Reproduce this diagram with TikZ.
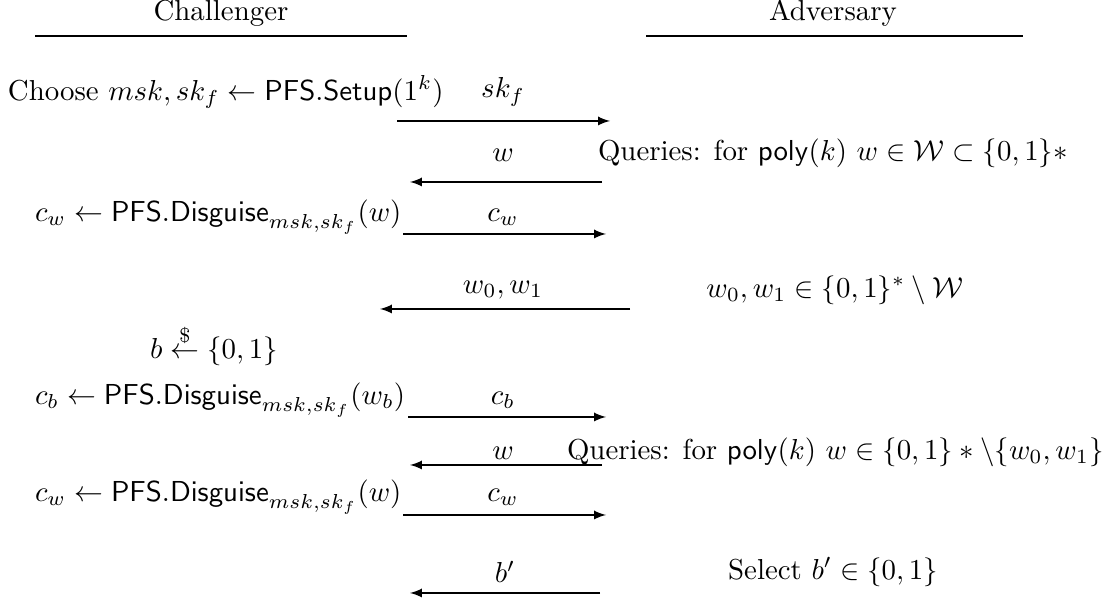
\documentclass[tikz,border=0pt]{standalone}
\usepackage{amsmath,amssymb}
\usetikzlibrary{arrows}
\begin{document}
\begin{tikzpicture}[x=0.01217cm,y=-0.01217cm,
  txt/.style={inner sep=0pt,outer sep=0pt},
  lefttxt/.style={txt,anchor=west},
  msg/.style={txt},
  arr/.style={-latex,line width=0.45pt},
  rule/.style={line width=0.45pt}]
\useasboundingbox (0,0) rectangle (1111,604);
% headers
\node[txt] (chal) at (221,13) {Challenger};
\node[txt] (adv) at (833,13) {Adversary};
\coordinate (cl1) at (35,36); \coordinate (cl2) at (407,36);
\coordinate (al1) at (646,36); \coordinate (al2) at (1023,36);
\draw[rule] (cl1) -- (cl2);
\draw[rule] (al1) -- (al2);
% row 1
\node[lefttxt] (r1) at (8,92) {Choose $msk, sk_f \leftarrow \mathsf{PFS.Setup}(1^k)$};
\node[msg] (m1) at (503,92) {$sk_f$};
\coordinate (a1s) at (397,121); \coordinate (a1e) at (610,121);
\draw[arr] (a1s) -- (a1e);
% row 2
\node[msg] (m2) at (503,155) {$w$};
\node[lefttxt] (q1) at (598,153) {Queries: for $\mathsf{poly}(k)$ $w \in \mathcal{W} \subset \{0,1\}*$};
\coordinate (a2s) at (602,182); \coordinate (a2e) at (410,182);
\draw[arr] (a2s) -- (a2e);
% row 3
\node[lefttxt] (r3) at (35,217) {$c_w \leftarrow \mathsf{PFS.Disguise}_{msk,sk_f}(w)$};
\node[msg] (m3) at (503,217) {$c_w$};
\coordinate (a3s) at (403,234); \coordinate (a3e) at (606,234);
\draw[arr] (a3s) -- (a3e);
% row 4
\node[msg] (m4) at (503,290) {$w_0, w_1$};
\node[txt] (ch) at (835,290) {$w_0, w_1 \in \{0,1\}^* \setminus \mathcal{W}$};
\coordinate (a4s) at (630,309); \coordinate (a4e) at (380,309);
\draw[arr] (a4s) -- (a4e);
% row 5
\node[lefttxt] (rb) at (150,345) {$b \overset{\$}{\leftarrow} \{0,1\}$};
\node[lefttxt] (r5) at (35,400) {$c_b \leftarrow \mathsf{PFS.Disguise}_{msk,sk_f}(w_b)$};
\node[msg] (m5) at (503,400) {$c_b$};
\coordinate (a5s) at (408,417); \coordinate (a5e) at (606,417);
\draw[arr] (a5s) -- (a5e);
% row 6
\node[msg] (m6) at (503,453) {$w$};
\node[lefttxt] (q2) at (567,452) {Queries: for $\mathsf{poly}(k)$ $w \in \{0,1\} * \backslash \{w_0,w_1\}$};
\coordinate (a6s) at (602,465); \coordinate (a6e) at (410,465);
\draw[arr] (a6s) -- (a6e);
% row 7
\node[lefttxt] (r7) at (35,497) {$c_w \leftarrow \mathsf{PFS.Disguise}_{msk,sk_f}(w)$};
\node[msg] (m7) at (503,497) {$c_w$};
\coordinate (a7s) at (403,515); \coordinate (a7e) at (606,515);
\draw[arr] (a7s) -- (a7e);
% row 8
\node[msg] (m8) at (505,572) {$b'$};
\node[txt] (sel) at (833,572) {Select $b' \in \{0,1\}$};
\coordinate (a8s) at (600,593); \coordinate (a8e) at (410,593);
\draw[arr] (a8s) -- (a8e);
\end{tikzpicture}
\end{document}
